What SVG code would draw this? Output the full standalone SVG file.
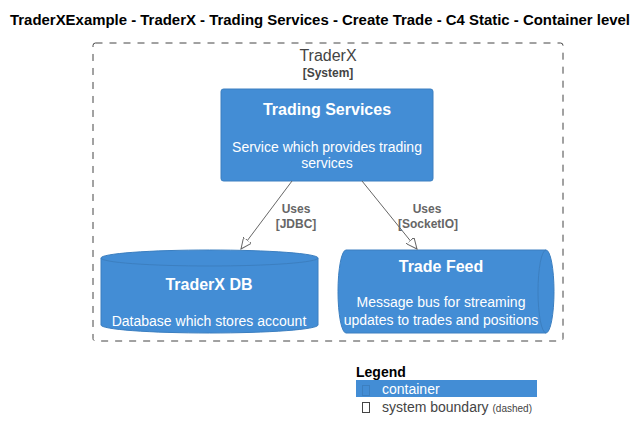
<svg xmlns="http://www.w3.org/2000/svg" width="640" height="441" viewBox="0 0 640 441">
<defs>
<style>
text{font-family:"Liberation Sans",Arial,sans-serif}
.title{font-size:14px;font-weight:bold;fill:#000}
.nt{font-size:16px;font-weight:bold;fill:#fff;text-anchor:middle}
.nd{font-size:14px;fill:#fff;text-anchor:middle}
.node{fill:#438DD5;stroke:#3C7FC0;stroke-width:1}
.lbl{font-size:12px;font-weight:bold;fill:#666;text-anchor:middle}
.conn{stroke:#666;stroke-width:1;fill:none}
</style>
<marker id="ah" viewBox="0 0 12 10" refX="11" refY="5" markerWidth="12" markerHeight="10" markerUnits="userSpaceOnUse" orient="auto">
<path d="M0,0 L11,5 L0,10 Z" fill="#fff" stroke="#666" stroke-width="1"/>
</marker>
</defs>
<rect width="640" height="441" fill="#fff"/>
<text class="title" x="10" y="25" textLength="620" lengthAdjust="spacingAndGlyphs">TraderXExample - TraderX - Trading Services - Create Trade - C4 Static - Container level</text>
<g id="boundary">
<rect x="93" y="43" width="470" height="298" rx="2.5" fill="none" stroke="#444" stroke-width="1" stroke-dasharray="7,7"/>
<text x="328" y="61" font-size="16" fill="#444" text-anchor="middle">TraderX</text>
<text x="328" y="77" font-size="12" font-weight="bold" fill="#444" text-anchor="middle">[System]</text>
</g>
<g id="trading-services">
<rect class="node" x="221" y="89" width="212" height="92" rx="2.5"/>
<text class="nt" x="327" y="115">Trading Services</text>
<text class="nd" x="327" y="152">Service which provides trading</text>
<text class="nd" x="327" y="168">services</text>
</g>
<g id="traderx-db">
<path class="node" d="M101,258 A108.5,8 0 0 1 318,258 L318,325 A108.5,8 0 0 1 101,325 Z"/>
<path d="M101,258 A108.5,8 0 0 0 318,258" fill="none" stroke="#3C7FC0"/>
<text class="nt" x="209" y="290">TraderX DB</text>
<text class="nd" x="209" y="326">Database which stores account</text>
</g>
<g id="trade-feed">
<path class="node" d="M346,250 L546,250 A8,41.5 0 0 1 546,333 L346,333 A8,41.5 0 0 1 346,250 Z"/>
<path d="M546,250 A8,41.5 0 0 0 546,333" fill="none" stroke="#3C7FC0"/>
<text class="nt" x="441" y="272">Trade Feed</text>
<text class="nd" x="441" y="307">Message bus for streaming</text>
<text class="nd" x="441" y="325">updates to trades and positions</text>
</g>
<g id="connectors">
<line class="conn" x1="292" y1="181" x2="241" y2="249" marker-end="url(#ah)"/>
<text class="lbl" x="296" y="213">Uses</text>
<text class="lbl" x="296" y="228">[JDBC]</text>
<line class="conn" x1="362" y1="181" x2="417" y2="249" marker-end="url(#ah)"/>
<text class="lbl" x="427" y="213">Uses</text>
<text class="lbl" x="428" y="228">[SocketIO]</text>
</g>
<g id="legend">
<text x="356" y="377" font-size="14" font-weight="bold" fill="#000">Legend</text>
<rect x="356" y="380" width="181" height="17" fill="#438DD5"/>
<rect x="362.5" y="385.5" width="7" height="10" fill="none" stroke="#3C7FC0"/>
<text x="382" y="394" font-size="14" fill="#fff">container</text>
<rect x="362.5" y="402.5" width="7" height="10" fill="none" stroke="#444"/>
<text x="382" y="412" font-size="14" fill="#444">system boundary <tspan font-size="10">(dashed)</tspan></text>
</g>
</svg>
